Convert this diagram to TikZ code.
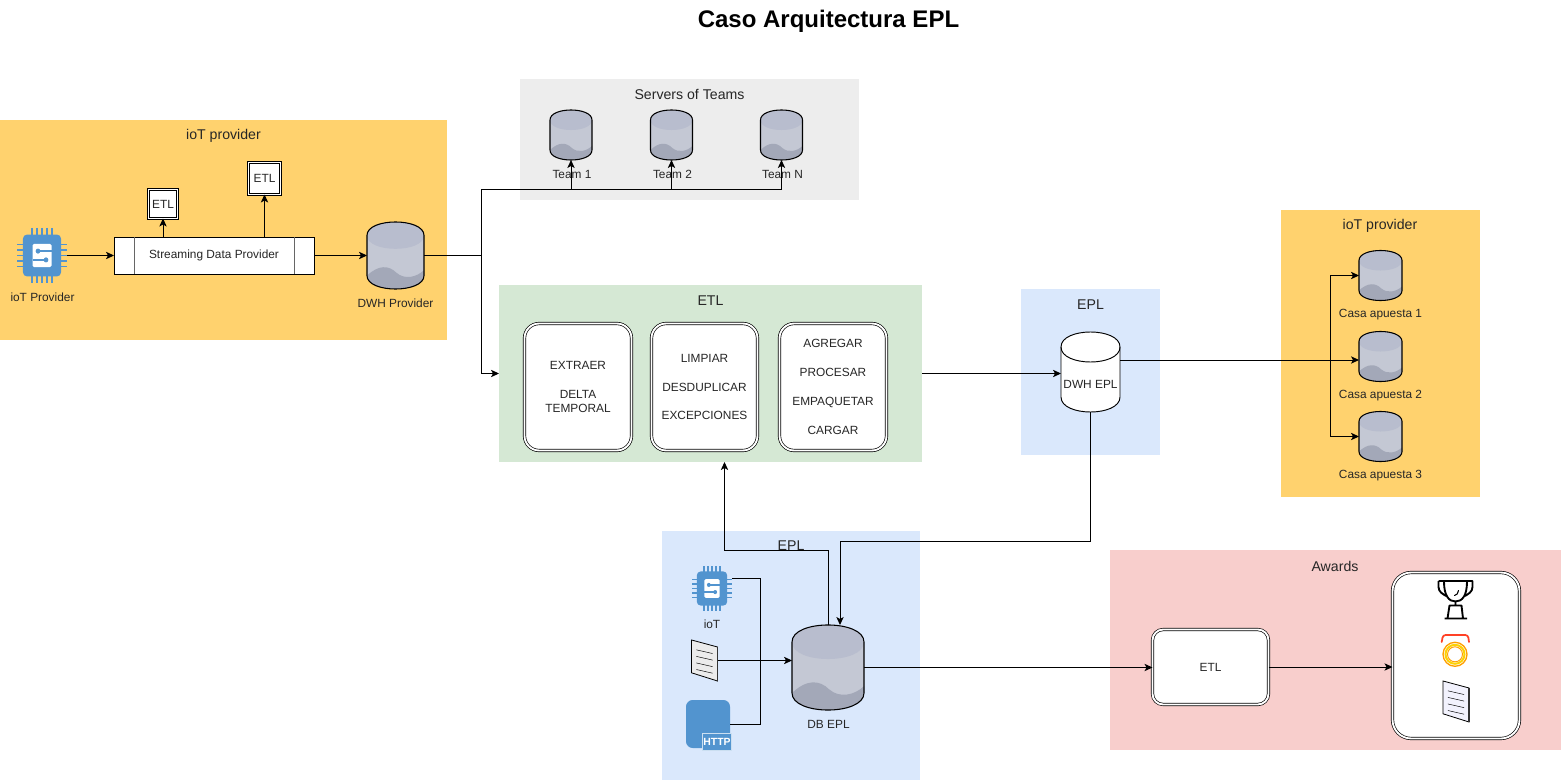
\documentclass[tikz,border=0pt]{standalone}
\usepackage{xcolor}
\usepackage{fontspec}
\setmainfont{Liberation Sans}
\usepackage{tikz}
\usetikzlibrary{arrows.meta, positioning, fit, backgrounds}

\definecolor{iotyellow}{HTML}{FFD26E}
\definecolor{teamgray}{HTML}{EDEDED}
\definecolor{etlgreen}{HTML}{D5E8D4}
\definecolor{eplblue}{HTML}{DAE8FC}
\definecolor{awardred}{HTML}{F8CECC}
\definecolor{iconblue}{HTML}{5294CF}
\definecolor{dbbody}{HTML}{C4C8D4}
\definecolor{dbtop}{HTML}{B8BDCE}
\definecolor{dbwave}{HTML}{A3A8B8}

\tikzset{
  groupbox/.style={fill=#1, draw=none, inner sep=0pt, outer sep=0pt},
  grouptext/.style={font=\fontsize{10.6}{12}\selectfont, text=black!85, inner sep=0pt},
  smalltext/.style={font=\fontsize{8.9}{10.8}\selectfont, text=black!85, inner sep=0pt, align=center},
  plainbox/.style={draw, fill=white, line width=.7pt, inner sep=0pt, outer sep=0pt, smalltext},
  doublebox/.style={draw, fill=white, double=white, double distance=1.4pt, line width=.5pt, inner sep=0pt, outer sep=0pt, smalltext},
  stepbox/.style={doublebox, rounded corners=11pt, minimum height=95.25pt},
  iconspot/.style={inner sep=0pt, outer sep=0pt},
  link/.style={line width=.75pt, black},
  pics/dbstack/.style={code={
    \fill[dbbody] (-.5,-.3) .. controls (-.5,-.567) and (.5,-.567) .. (.5,-.3) -- (.5,.3)
      .. controls (.5,.567) and (-.5,.567) .. (-.5,.3) -- cycle;
    \fill[dbtop] (-.5,-.3) .. controls (-.5,-.567) and (.5,-.567) .. (.5,-.3)
      .. controls (.5,-.033) and (-.5,-.033) .. (-.5,-.3) -- cycle;
    \fill[dbwave] (-.5,.3) .. controls (-.3,.14) and (-.12,.14) .. (.02,.26)
      .. controls (.16,.36) and (.36,.33) .. (.5,.22) -- (.5,.3)
      .. controls (.5,.567) and (-.5,.567) .. (-.5,.3) -- cycle;
    \draw[line width=.8pt] (-.5,-.3) .. controls (-.5,-.567) and (.5,-.567) .. (.5,-.3) -- (.5,.3)
      .. controls (.5,.567) and (-.5,.567) .. (-.5,.3) -- cycle;
  }},
  pics/chipicon/.style={code={
    \foreach \p in {-.2,-.1,0,.1,.2} {
      \draw[iconblue, line width=.9pt] (\p,-.5) -- (\p,.5);
      \draw[iconblue, line width=.9pt] (-.5,\p) -- (.5,\p);
    }
    \fill[iconblue, rounded corners=3pt] (-.38,-.38) rectangle (.38,.38);
    \fill[white, rounded corners=1pt] (-.19,-.21) rectangle (.19,.21);
    \draw[iconblue, line width=1pt] (-.19,.08) -- (.07,.08) (.19,-.08) -- (-.07,-.08);
    \fill[iconblue] (-.08,-.08) circle (.035pt) (.08,.08) circle (.035pt);
  }},
  pics/sheeticon/.style={code={
    \fill[#1] (-.48,-.5) -- (.48,-.33) -- (.48,.5) -- (-.48,.3) -- cycle;
    \draw[line width=.6pt] (-.48,-.5) -- (.48,-.33) -- (.48,.5) -- (-.48,.3) -- cycle;
    \draw[line width=1.1pt, black!80] (.48,-.33) -- (.48,.5);
    \foreach \l in {-.26,-.1,.06,.22}
      \draw[line width=.35pt] (-.3,\l) -- (.3,\l+.09);
  }}
}

\begin{document}
\begin{tikzpicture}[x=.75pt, y=-.75pt, >={Stealth[length=6pt, width=5.5pt, inset=1.5pt]}]
  \useasboundingbox (0,0) rectangle (1561,781);

  \node[font=\fontsize{18}{22}\selectfont\bfseries, inner sep=0pt] (title) at (828.5,21) {Caso Arquitectura EPL};

  % group areas
  \node[groupbox=iotyellow, fit={(0,120)(447,340)}] (iotarea) {};
  \node[groupbox=teamgray, fit={(520,79)(859,200)}] (teamarea) {};
  \node[groupbox=etlgreen, fit={(499,285)(922,462)}] (etl) {};
  \node[groupbox=eplblue, fit={(1021,289)(1160,455)}] (eplarea) {};
  \node[groupbox=iotyellow, fit={(1281,210)(1480,497)}] (casaarea) {};
  \node[groupbox=eplblue, fit={(662,531)(920,780)}] (dbarea) {};
  \node[groupbox=awardred, fit={(1110,550)(1561,750)}] (awardarea) {};

  \foreach \id/\x/\y/\l in {iotlabel/223.5/136/ioT provider, teamlabel/689.5/94/Servers of Teams, etllabel/710.5/301/ETL,
    epllabel/1090.5/305/EPL, casalabel/1380/226/ioT provider, dblabel/791/545.5/EPL, awardlabel/1335/566/Awards}
    \node[grouptext] (\id) at (\x,\y) {\l};

  % iot provider
  \node[iconspot, fit={(17,228)(67,283)}] (chip) {};
  \pic[xscale=50, yscale=55] at (chip.center) {chipicon};
  \node[smalltext] (chiplabel) at (42.5,297) {ioT Provider};
  \node[plainbox, minimum width=150pt, minimum height=27.75pt] (stream) at (214,255.5) {Streaming Data Provider};
  \draw[black!60, line width=.7pt] ([xshift=15pt]stream.north west) -- ([xshift=15pt]stream.south west);
  \draw[black!60, line width=.7pt] ([xshift=-15pt]stream.north east) -- ([xshift=-15pt]stream.south east);
  \node[doublebox, minimum size=21.75pt] (etlsmall) at (163,204) {ETL};
  \node[doublebox, minimum size=24pt] (etlmid) at (264.5,178.5) {ETL};
  \node[iconspot, fit={(367,222)(424,289)}] (dwhprov) {};
  \pic[xscale=57, yscale=67] at (dwhprov.center) {dbstack};
  \node[smalltext] (dwhprovlabel) at (395.5,303) {DWH Provider};

  % teams and betting houses
  \foreach \id/\x/\y/\l in {team1/571/135/Team 1, team2/671.5/135/Team 2, teamn/781.5/135/Team N} {
    \node[iconspot, minimum width=31.5pt, minimum height=37.5pt] (\id) at (\x,\y) {};
    \pic[xscale=42, yscale=50] at (\id.center) {dbstack};
    \node[smalltext] (\id label) at (\x+1,\y+39) {\l};
  }
  \foreach \id/\y/\l in {casa1/275.5/Casa apuesta 1, casa2/356.5/Casa apuesta 2, casa3/436.5/Casa apuesta 3} {
    \node[iconspot, minimum width=32.25pt, minimum height=37.5pt] (\id) at (1380.5,\y) {};
    \pic[xscale=43, yscale=50] at (\id.center) {dbstack};
    \node[smalltext] (\id label) at (1380.5,\y+39.5) {\l};
  }

  % etl steps
  \node[stepbox, minimum width=80.25pt] (extract) at (578,387) {EXTRAER\\[10.8pt]DELTA\\TEMPORAL};
  \node[stepbox, minimum width=79.5pt] (clean) at (704.5,387) {LIMPIAR\\[10.8pt]DESDUPLICAR\\[10.8pt]EXCEPCIONES};
  \node[stepbox, minimum width=80.25pt] (load) at (833,387) {AGREGAR\\[10.8pt]PROCESAR\\[10.8pt]EMPAQUETAR\\[10.8pt]CARGAR};

  % dwh epl
  \node[iconspot, fit={(1061,332)(1120,412)}] (dwhepl) {};
  \draw[fill=white, line width=.7pt] (1061,347) .. controls (1061,327) and (1120,327) .. (1120,347) -- (1120,397)
    .. controls (1120,417) and (1061,417) .. (1061,397) -- cycle;
  \draw[line width=.7pt] (1061,347) .. controls (1061,367) and (1120,367) .. (1120,347);
  \node[smalltext] (dwhtext) at (1090.5,384) {DWH EPL};

  % db epl and its sources
  \node[iconspot, fit={(692,566)(732,611)}] (chipepl) {};
  \pic[xscale=40, yscale=45] at (chipepl.center) {chipicon};
  \node[smalltext] (chipepllabel) at (712,624) {ioT};
  \node[iconspot, fit={(691,640)(718,681)}] (docsource) {};
  \pic[xscale=27, yscale=41] at (docsource.center) {sheeticon={black!8}};
  \node[iconspot, fit={(686,700)(730,748)}] (httpsource) {};
  \fill[iconblue, rounded corners=5pt] (686,700) rectangle (730,748);
  \node[iconspot, draw=white!70!iconblue, fill=iconblue, minimum width=22pt, minimum height=13pt,
    font=\fontsize{7.8}{9}\selectfont\bfseries, text=white] (httptag) at (717,742) {HTTP};
  \node[iconspot, fit={(792,625)(864,710)}] (dbepl) {};
  \pic[xscale=72, yscale=85] at (dbepl.center) {dbstack};
  \node[smalltext] (dbepllabel) at (828.5,724.5) {DB EPL};

  % awards
  \node[doublebox, rounded corners=8pt, minimum width=87pt, minimum height=56.25pt] (etlaward) at (1210.5,667) {ETL};
  \node[doublebox, rounded corners=14pt, minimum width=95.25pt, minimum height=124.5pt] (awardbox) at (1456,655.5) {};
  \draw[line width=1.4pt, line join=round]
    (1444,581.5) .. controls (1444,596) and (1449,601.5) .. (1455.5,601.5) .. controls (1462,601.5) and (1467,596) .. (1467,581.5)
    (1438.5,581) -- (1472.5,581) -- (1472.5,587) .. controls (1472.5,592) and (1468,594) .. (1465,596)
    (1438.5,581) -- (1438.5,587) .. controls (1438.5,592) and (1443,594) .. (1446,596)
    (1455.5,601.5) -- (1455.5,605.5) (1449.5,605.5) -- (1461.5,605.5) -- (1463,618.5) -- (1447.5,618.5) -- cycle
    (1444.5,618.5) -- (1467,618.5);
  \draw[line width=.8pt, line cap=round] (1458.5,590.5) .. controls (1458,593.5) and (1457,595) .. (1454.5,595.5);
  \draw[red!75!orange!85!white, line width=1.3pt, line cap=round, rounded corners=2pt]
    (1441.7,642) -- (1443,635) -- (1468,635) -- (1469,642);
  \fill[white] (1455,654.3) circle (12.5);
  \draw[orange!75!yellow, line width=1pt] (1455,654.3) circle (12);
  \draw[yellow!70!orange, line width=1.5pt] (1455,654.3) circle (9.5);
  \draw[orange!75!yellow, line width=.7pt] (1455,654.3) circle (7.5);
  \node[iconspot, fit={(1443,681)(1469,722)}] (docaward) {};
  \pic[xscale=27, yscale=41] at (docaward.center) {sheeticon={black!12!blue!5}};

  % connectors
  \coordinate (hub) at (481,255.5);
  \coordinate (teambus) at (481,190);
  \draw[link, ->] (chip.east) -- (stream.west);
  \draw[link, ->] (stream.north -| etlsmall.south) -- (etlsmall.south);
  \draw[link, ->] (stream.north -| etlmid.south) -- (etlmid.south);
  \draw[link, ->] (stream.east) -- (dwhprov.west);
  \draw[line width=1.2pt] (dwhprov.east) -- (hub);
  \draw[link, ->] (hub) -- (teambus) -| (team1.south);
  \draw[link, ->] (teambus) -| (team2.south);
  \draw[link, ->] (teambus) -| (teamn.south);
  \draw[link, ->] (hub) |- (etl.west);
  \draw[link, ->] (etl.east) -- (etl.east -| dwhepl.west);

  \coordinate (dwhout) at (1120,360);
  \coordinate (casabranch) at (1330,360);
  \draw[link, ->] (dwhout) -- (dwhout -| casa2.west);
  \draw[link, ->] (casabranch) |- (casa1.west);
  \draw[link, ->] (casabranch) |- (casa3.west);

  \coordinate (dwhbus) at (840,541);
  \coordinate (etlbus) at (724.5,550);
  \draw[link, ->] (dwhepl.south) |- (dwhbus) -- (dwhbus |- dbepl.north);
  \draw[link, ->] (dbepl.north) |- (etlbus) -- (etlbus |- etl.south);

  \coordinate (chipout) at (732,578);
  \coordinate (dbjoin) at (760,660.5);
  \draw[link] (chipout) -| (dbjoin);
  \draw[link] (httpsource.east) -| (dbjoin);
  \draw[link, ->] (docsource.east) -- (docsource.east -| dbepl.west);
  \draw[link, ->] (dbepl.east) -- (dbepl.east -| etlaward.west);
  \draw[link, ->] (etlaward.east) -- (etlaward.east -| awardbox.west);
\end{tikzpicture}
\end{document}
